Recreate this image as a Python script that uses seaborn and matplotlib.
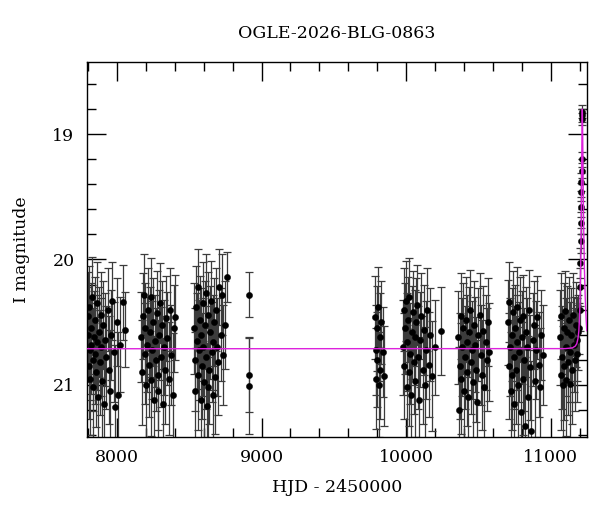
import numpy as np
import pandas as pd
import seaborn as sns
import matplotlib.pyplot as plt
from matplotlib.ticker import MultipleLocator

# OGLE photometry: HJD-2450000, I mag, error
# season 1
t1 = [7799, 7802, 7806, 7809, 7813, 7816, 7820, 7824, 7828, 7832, 7836, 7840, 7845,
      7849, 7854, 7859, 7864, 7869, 7875, 7881, 7887, 7893, 7899, 7906, 7913, 7920,
      7927, 7935, 7943, 7951, 7960, 7969, 7978, 7988, 7998, 8010, 8024, 8040, 8058]
m1 = [20.45, 20.60, 20.85, 20.38, 20.72, 20.95, 20.55, 20.68, 20.30, 20.80, 21.02, 20.62, 20.48,
      20.75, 20.90, 20.35, 20.66, 21.10, 20.58, 20.82, 20.44, 20.70, 20.97, 20.52, 21.15, 20.64,
      20.78, 20.40, 20.88, 21.05, 20.60, 20.33, 20.74, 21.18, 20.50, 21.08, 20.68, 20.34, 20.56]
e1 = [0.35, 0.38, 0.42, 0.33, 0.40, 0.45, 0.36, 0.39, 0.32, 0.41, 0.48, 0.37, 0.34,
      0.40, 0.44, 0.33, 0.38, 0.50, 0.36, 0.42, 0.34, 0.39, 0.46, 0.35, 0.52, 0.37,
      0.41, 0.33, 0.43, 0.49, 0.36, 0.31, 0.40, 0.50, 0.35, 0.50, 0.38, 0.30, 0.30]

# season 2
t2 = [8168, 8174, 8180, 8186, 8191, 8197, 8203, 8209, 8215, 8221, 8227, 8233,
      8239, 8245, 8251, 8257, 8263, 8269, 8275, 8281, 8287, 8293, 8299, 8305,
      8312, 8319, 8326, 8333, 8341, 8349, 8357, 8366, 8375, 8385, 8392, 8400]
m2 = [20.62, 20.90, 20.45, 20.28, 20.75, 20.55, 21.00, 20.68, 20.40, 20.84, 20.58, 20.30,
      20.96, 20.72, 20.50, 21.12, 20.65, 20.80, 20.43, 20.92, 21.05, 20.60, 20.35, 20.78,
      20.52, 21.15, 20.70, 20.88, 20.47, 20.63, 20.95, 20.40, 20.76, 21.08, 20.55, 20.46]
e2 = [0.36, 0.42, 0.34, 0.32, 0.40, 0.36, 0.46, 0.38, 0.33, 0.42, 0.36, 0.31,
      0.45, 0.39, 0.35, 0.50, 0.37, 0.41, 0.34, 0.44, 0.48, 0.36, 0.32, 0.40,
      0.35, 0.52, 0.38, 0.43, 0.34, 0.37, 0.45, 0.33, 0.40, 0.49, 0.35, 0.34]

# season 3
t3 = [8532, 8538, 8543, 8548, 8553, 8558, 8563, 8568, 8573, 8578, 8583, 8588, 8593,
      8598, 8603, 8608, 8613, 8618, 8623, 8628, 8633, 8638, 8643, 8649, 8655,
      8661, 8667, 8673, 8680, 8687, 8694, 8701, 8709, 8717, 8726, 8735, 8744]
m3 = [20.55, 20.80, 21.05, 20.38, 20.65, 20.92, 20.22, 20.72, 20.48, 21.12, 20.60, 20.85, 20.35,
      20.70, 20.98, 20.52, 20.27, 20.78, 21.17, 21.02, 20.44, 20.88, 20.58, 20.33, 20.74,
      21.08, 20.66, 20.50, 20.94, 20.40, 20.70, 20.82, 20.22, 20.60, 20.28, 20.76, 20.52]
e3 = [0.36, 0.41, 0.47, 0.33, 0.38, 0.44, 0.30, 0.40, 0.35, 0.50, 0.37, 0.42, 0.33,
      0.39, 0.46, 0.35, 0.31, 0.41, 0.50, 0.47, 0.34, 0.43, 0.37, 0.32, 0.40,
      0.49, 0.38, 0.35, 0.45, 0.33, 0.39, 0.42, 0.30, 0.37, 0.32, 0.40, 0.35]

# a few isolated points
tx = [8761, 8912, 8913, 8914]
mx = [20.14, 20.28, 20.92, 21.01]
ex = [0.20, 0.18, 0.30, 0.38]

# season 4
t4 = [9784, 9789, 9793, 9797, 9801, 9806, 9811, 9816, 9822, 9829, 9837, 9848]
m4 = [20.46, 20.72, 20.95, 20.55, 20.80, 20.38, 21.00, 20.62, 20.88, 20.50, 20.74, 20.93]
e4 = [0.33, 0.36, 0.40, 0.34, 0.38, 0.32, 0.42, 0.35, 0.39, 0.33, 0.36, 0.40]

# season 5
t5 = [9978, 9983, 9988, 9993, 9998, 10003, 10008, 10013, 10018, 10023, 10028,
      10034, 10040, 10046, 10052, 10058, 10064, 10070, 10077, 10084, 10091, 10098,
      10105, 10113, 10121, 10129, 10138, 10147, 10156, 10166, 10180, 10200, 10239]
m5 = [20.70, 20.40, 20.85, 20.55, 20.33, 21.02, 20.66, 20.48, 20.90, 20.30, 20.75,
      21.08, 20.58, 20.42, 20.82, 20.62, 20.97, 20.50, 20.36, 20.78, 21.12, 20.64,
      20.45, 20.88, 20.56, 21.00, 20.72, 20.40, 20.84, 20.60, 20.93, 20.70, 20.57]
e5 = [0.38, 0.33, 0.42, 0.36, 0.32, 0.47, 0.39, 0.34, 0.43, 0.31, 0.40,
      0.49, 0.37, 0.33, 0.41, 0.38, 0.45, 0.35, 0.32, 0.41, 0.50, 0.38,
      0.34, 0.43, 0.36, 0.46, 0.39, 0.33, 0.42, 0.37, 0.44, 0.38, 0.35]

# season 6
t6 = [10358, 10364, 10370, 10376, 10382, 10388, 10394, 10400, 10406, 10412, 10418,
      10424, 10430, 10437, 10444, 10451, 10458, 10465, 10472, 10479, 10486, 10493,
      10500, 10508, 10516, 10524, 10532, 10541, 10550, 10559, 10568, 10576]
m6 = [20.62, 21.20, 20.85, 20.45, 20.95, 20.70, 20.55, 21.05, 20.78, 20.48, 20.66,
      20.90, 21.10, 20.58, 20.40, 20.82, 20.72, 20.98, 20.52, 20.68, 20.88, 21.14,
      20.60, 20.44, 20.76, 20.92, 20.57, 21.02, 20.66, 20.80, 20.50, 20.74]
e6 = [0.37, 0.50, 0.42, 0.34, 0.44, 0.39, 0.36, 0.47, 0.41, 0.34, 0.38,
      0.43, 0.49, 0.36, 0.32, 0.41, 0.39, 0.45, 0.35, 0.38, 0.42, 0.50,
      0.37, 0.33, 0.40, 0.44, 0.36, 0.46, 0.38, 0.41, 0.35, 0.39]

# season 7
t7 = [10704, 10709, 10714, 10719, 10724, 10729, 10734, 10739, 10744, 10749, 10754,
      10759, 10764, 10769, 10775, 10781, 10787, 10793, 10799, 10805, 10811, 10817,
      10823, 10830, 10837, 10844, 10851, 10858, 10866, 10874, 10882, 10890, 10898,
      10907, 10916, 10925, 10934, 10943]
m7 = [20.50, 20.85, 20.34, 20.70, 21.05, 20.60, 20.92, 20.42, 20.78, 21.15, 20.55,
      20.88, 20.38, 20.66, 21.00, 20.74, 20.48, 21.22, 20.62, 20.95, 20.45, 20.80,
      21.33, 20.58, 20.70, 21.10, 20.40, 20.86, 21.37, 20.64, 20.52, 20.97, 20.72,
      20.46, 20.84, 21.02, 20.60, 20.76]
e7 = [0.34, 0.42, 0.32, 0.39, 0.47, 0.37, 0.44, 0.33, 0.41, 0.50, 0.35,
      0.43, 0.32, 0.38, 0.46, 0.40, 0.34, 0.52, 0.37, 0.45, 0.33, 0.41,
      0.55, 0.36, 0.39, 0.49, 0.32, 0.42, 0.56, 0.37, 0.35, 0.45, 0.39,
      0.33, 0.42, 0.47, 0.36, 0.40]

# season 8, before the event
t8 = [11063, 11068, 11073, 11078, 11083, 11088, 11093, 11098, 11103, 11108, 11113, 11118,
      11124, 11130, 11136, 11142, 11148, 11154, 11160, 11166, 11172, 11178, 11184, 11190]
m8 = [20.62, 20.92, 20.45, 20.78, 21.00, 20.55, 20.85, 20.41, 20.70, 20.96, 20.58, 20.82,
      20.48, 20.74, 20.99, 20.60, 20.88, 20.44, 20.68, 20.80, 20.52, 20.75, 20.64, 20.58]
e8 = [0.38, 0.44, 0.34, 0.41, 0.47, 0.36, 0.43, 0.32, 0.39, 0.45, 0.37, 0.42,
      0.34, 0.40, 0.46, 0.37, 0.43, 0.33, 0.38, 0.41, 0.34, 0.39, 0.33, 0.30]

# rising part of the event
tp = [11196, 11199, 11202, 11205, 11207, 11209, 11210, 11211, 11212, 11213, 11214, 11216, 11217, 11218]
mp = [20.55, 20.40, 20.22, 20.03, 19.85, 19.71, 19.58, 19.46, 19.38, 19.29, 19.20, 18.88, 18.85, 18.82]
ep = [0.20, 0.17, 0.15, 0.12, 0.10, 0.09, 0.08, 0.07, 0.07, 0.06, 0.06, 0.05, 0.05, 0.05]

# model curve
model_t = [7793, 11100, 11150, 11170, 11180, 11188, 11194, 11199, 11203, 11207, 11210,
           11213, 11216, 11218, 11220, 11223, 11227, 11232, 11238, 11244, 11249]
model_mag = [20.712, 20.711, 20.705, 20.69, 20.67, 20.63, 20.57, 20.45, 20.28, 20.04, 19.76,
             19.35, 18.95, 18.80, 18.95, 19.30, 19.70, 20.05, 20.30, 20.47, 20.57]

df = pd.DataFrame({
    'hjd': t1 + t2 + t3 + tx + t4 + t5 + t6 + t7 + t8 + tp,
    'mag': m1 + m2 + m3 + mx + m4 + m5 + m6 + m7 + m8 + mp,
    'err': e1 + e2 + e3 + ex + e4 + e5 + e6 + e7 + e8 + ep,
})

sns.set_theme(style="ticks")
plt.rcParams['font.family'] = ['DejaVu Serif']
plt.rcParams['text.color'] = 'black'
plt.rcParams['axes.labelcolor'] = 'black'
plt.rcParams['xtick.color'] = 'black'
plt.rcParams['ytick.color'] = 'black'

fig, ax = plt.subplots(figsize=(6, 5.12), dpi=100)
fig.subplots_adjust(left=0.145, right=0.978, bottom=0.1465, top=0.879)

ax.errorbar(df['hjd'], df['mag'], yerr=df['err'], fmt='none',
            ecolor='#3c3c3c', elinewidth=0.9, capsize=3, capthick=0.9, zorder=2)
sns.scatterplot(data=df, x='hjd', y='mag', color='black', s=20,
                edgecolor='black', linewidth=0.3, ax=ax, zorder=3)
sns.lineplot(x=model_t, y=model_mag, color='#dd22dd', linewidth=1.0, ax=ax, zorder=4)

ax.set_xlim(7793, 11249)
ax.set_ylim(21.416, 18.424)

ax.xaxis.set_major_locator(MultipleLocator(1000))
ax.xaxis.set_minor_locator(MultipleLocator(200))
ax.yaxis.set_major_locator(MultipleLocator(1))
ax.yaxis.set_minor_locator(MultipleLocator(0.2))
ax.tick_params(which='both', direction='in', top=True, right=True,
               width=1, color='black', labelcolor='black', labelsize=12.5, pad=9)
ax.tick_params(which='major', length=13.5)
ax.tick_params(which='minor', length=6.5)
for s in ax.spines.values():
    s.set_color('black')
    s.set_linewidth(1)

ax.set_title('OGLE-2026-BLG-0863', fontsize=12.5, pad=17, color='black')
ax.set_xlabel('HJD - 2450000', fontsize=12.5, labelpad=9)
ax.set_ylabel('I magnitude', fontsize=12.5, labelpad=16)

fig.savefig('out.png', dpi=100)
